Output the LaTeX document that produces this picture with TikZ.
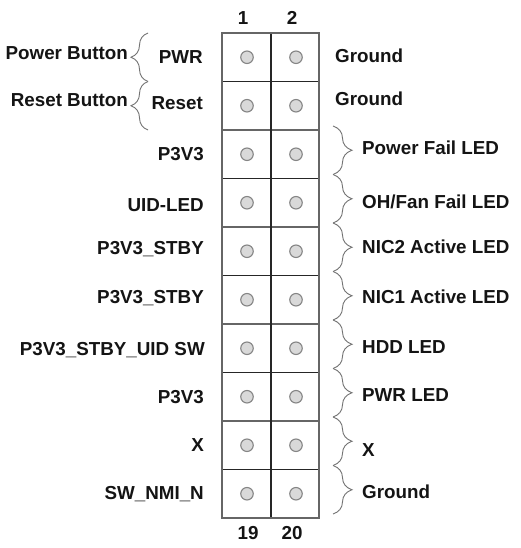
\documentclass[tikz,border=0pt]{standalone}
\usepackage{fontspec}
\setmainfont{Liberation Sans}
\usetikzlibrary{decorations.pathreplacing}
\begin{document}
\begin{tikzpicture}[x=1pt,y=-1pt,
  lbl/.style={font=\fontsize{18.8}{20}\selectfont\bfseries, text=black!92, inner sep=0pt},
  pinc/.style={circle, draw=black!48, fill=black!15, line width=1.1pt, minimum size=12.5pt, inner sep=0pt},
  brc/.style={decorate, decoration={brace, amplitude=19pt}, draw=black!55, line width=0.9pt},
  thickline/.style={draw=black!85, line width=1.8pt},
  thinline/.style={draw=black!60, line width=1.3pt}]
\useasboundingbox (0,0) rectangle (520,548);
\fill[white] (0,0) rectangle (520,548);
% grid
\foreach \i in {1,3,5,7,9} \draw[thickline] (222,{33+48.5*\i}) -- (319,{33+48.5*\i});
\foreach \i in {2,4,6,8} \draw[thinline] (222,{33+48.5*\i}) -- (319,{33+48.5*\i});
\draw[thickline] (271,33) -- (271,518);
\draw[thinline] (222,33) rectangle (319,518);
% pins
\foreach \i in {1,...,10} {
  \node[pinc] (pa\i) at (247,{33+48.5*(\i-0.5)}) {};
  \node[pinc] (pb\i) at (296,{33+48.5*(\i-0.5)}) {};
}
% header numbers
\node[lbl, anchor=base] (n1) at (243,24.6) {1};
\node[lbl, anchor=base] (n2) at (292,24.6) {2};
\node[lbl, anchor=base] (n19) at (248,539.6) {19};
\node[lbl, anchor=base] (n20) at (292,539.6) {20};
% left labels
\node[lbl, anchor=base east] (l1) at (203,63.6) {PWR};
\node[lbl, anchor=base east] (l2) at (203,109.6) {Reset};
\node[lbl, anchor=base east] (l3) at (204,160.6) {P3V3};
\node[lbl, anchor=base east] (l4) at (204,211.6) {UID-LED};
\node[lbl, anchor=base east] (l5) at (204,254.6) {P3V3\_STBY};
\node[lbl, anchor=base east] (l6) at (204,303.6) {P3V3\_STBY};
\node[lbl, anchor=base east] (l7) at (205,355.6) {P3V3\_STBY\_UID SW};
\node[lbl, anchor=base east] (l8) at (204,403.6) {P3V3};
\node[lbl, anchor=base east] (l9) at (204,451.6) {X};
\node[lbl, anchor=base east] (l10) at (204,499.6) {SW\_NMI\_N};
% left braces
\coordinate (lb0) at (148,33);
\coordinate (lb1) at (148,81.5);
\coordinate (lb2) at (148,130);
\draw[brc, decoration={amplitude=17pt}] (lb1) -- (lb0);
\draw[brc, decoration={amplitude=17pt}] (lb2) -- (lb1);
\node[lbl, anchor=base east] (pb) at (128,59.6) {Power Button};
\node[lbl, anchor=base east] (rb) at (128,106.6) {Reset Button};
% right labels
\node[lbl, anchor=base west] (r1) at (335,62.6) {Ground};
\node[lbl, anchor=base west] (r2) at (335,105.6) {Ground};
\foreach \i/\t/\y in {3/Power Fail LED/148, 4/OH\slash Fan Fail LED/202, 5/NIC2 Active LED/247,
  6/NIC1 Active LED/297, 7/HDD LED/347, 8/PWR LED/395, 9/X/450, 10/Ground/492} {
  \coordinate (rt\i) at (333,{33+48.5*(\i-1)-4});
  \coordinate (rbt\i) at (333,{33+48.5*\i-4});
  \draw[brc] (rt\i) -- (rbt\i);
  \node[lbl, anchor=base west] (r\i) at (362,\y+6.6) {\t};
}
\end{tikzpicture}
\end{document}
